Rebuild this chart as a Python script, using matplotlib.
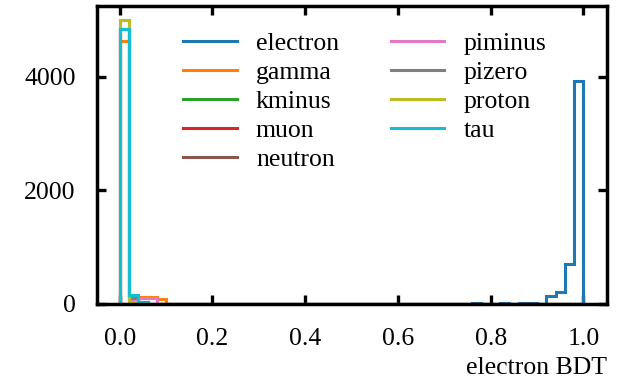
import numpy as np
import matplotlib
matplotlib.use('Agg')
import matplotlib.pyplot as plt
from matplotlib.lines import Line2D

# 50 bins of width 0.02 over the BDT score
edges = np.linspace(0, 1, 51)
centers = 0.5 * (edges[:-1] + edges[1:])

classes = ['electron', 'gamma', 'kminus', 'muon', 'neutron',
           'piminus', 'pizero', 'proton', 'tau']
colors = ['#1f77b4', '#ff7f0e', '#2ca02c', '#d62728', '#8c564b',
          '#e377c2', '#7f7f7f', '#bcbd22', '#17becf']

# non-empty bins: {bin index: count}
electron = {38: 25, 41: 20, 43: 20, 44: 20, 46: 140, 47: 210, 48: 700, 49: 3930}
gamma = {0: 4620, 1: 150, 2: 120, 3: 120, 4: 80}
kminus = {0: 4840, 1: 120, 2: 40}
muon = {0: 4840, 1: 120, 2: 40}
neutron = {0: 5000, 1: 60, 2: 30}
piminus = {0: 4840, 1: 90, 2: 100, 3: 100}
pizero = {0: 4840, 1: 100, 2: 40}
proton = {0: 5000, 1: 40}
tau = {0: 4840, 1: 150, 2: 10}

counts = [electron, gamma, kminus, muon, neutron, piminus, pizero, proton, tau]

plt.rcParams['font.family'] = ['Liberation Serif', 'DejaVu Serif']
plt.rcParams['font.size'] = 18.5

fig = plt.figure(figsize=(6.19, 3.8), dpi=100)
ax = fig.add_axes([0.156, 0.2, 0.824, 0.7855])

for name, color, c in zip(classes, colors, counts):
    w = np.zeros(len(centers))
    for i, v in c.items():
        w[i] = v
    ax.hist(centers, bins=edges, weights=w, histtype='step',
            color=color, linewidth=2.2)

ax.set_xticks([0.0, 0.2, 0.4, 0.6, 0.8, 1.0])
ax.set_yticks([0, 2000, 4000])
ax.tick_params(direction='in', top=True, right=True, length=6.5, width=2.4,
               labelsize=18.5)
ax.tick_params(axis='x', pad=17)
ax.tick_params(axis='y', pad=15)
for s in ax.spines.values():
    s.set_linewidth(2.5)
ax.set_xlabel('electron BDT', loc='right', fontsize=18.5, labelpad=5)

handles = [Line2D([], [], color=c, linewidth=2.2) for c in colors]
ax.legend(handles, classes, ncol=2, loc='upper left', frameon=False,
          fontsize=18.5, handlelength=2.1, handletextpad=0.75,
          labelspacing=0.24, columnspacing=2.0, borderpad=0, borderaxespad=0,
          bbox_to_anchor=(0.169, 0.912))

fig.savefig('out.png', dpi=100)
